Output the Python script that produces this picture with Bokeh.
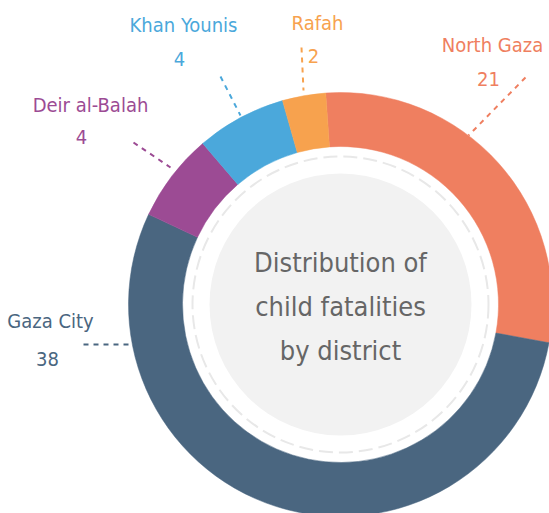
import math
from bokeh.plotting import figure
from bokeh.models import Range1d, ColumnDataSource
from bokeh.core.properties import value
from bokeh.embed import file_html
from bokeh.resources import INLINE

# ---- data ----
districts = ["North Gaza", "Gaza City", "Deir al-Balah", "Khan Younis", "Rafah"]
counts = [21, 38, 4, 4, 2]
# share of the ring (percent) as drawn in the reference picture
shares = [29.0, 54.1, 6.75, 6.85, 3.3]
colors = ["#EF7F60", "#4A6680", "#9C4B94", "#4BA8DB", "#F7A24E"]
title_lines = ["Distribution of", "child fatalities", "by district"]

# ---- layout (page pixel coords, y down) ----
W, H = 549, 513
PAGE_H = 513
def Y(y):
    return PAGE_H - y

cx, cy = 340, Y(304)
r_out, r_in = 212, 158
r_dash, r_core = 148, 131
start_deg = -4.0  # clockwise from 12 o'clock

TITLE_PX = 27
LABEL_PX = 20
def bl(y, px):
    # empirical shift so that the glyph baseline lands on y
    return Y(y - 0.41 * px)

# label anchors: (label x, label baseline, number x, number baseline), leader (x0,y0,x1,y1)
label_pos = {
    "North Gaza": (492, 53, 488, 87, (525, 77, 468, 135)),
    "Gaza City": (50, 329, 47, 367, (83, 344, 128, 344)),
    "Deir al-Balah": (90, 113, 81, 145, (133, 142, 170, 167)),
    "Khan Younis": (183, 33, 179, 67, (220, 76, 240, 115)),
    "Rafah": (317, 31, 313, 64, (301, 47, 303, 90)),
}

p = figure(width=W, height=H, output_backend="svg", toolbar_location=None,
           x_range=Range1d(0, W), y_range=Range1d(PAGE_H - H, PAGE_H),
           min_border=0)
p.axis.visible = False
p.grid.visible = False
p.outline_line_color = None
p.background_fill_color = "white"
p.border_fill_color = "white"

total = sum(shares)
starts, ends = [], []
acc = start_deg
for s in shares:
    a0 = acc
    a1 = acc + s / total * 360.0
    starts.append(math.radians(90 - a0))
    ends.append(math.radians(90 - a1))
    acc = a1

src = ColumnDataSource(dict(x=[cx] * len(districts), y=[cy] * len(districts),
                            start=starts, end=ends, color=colors, name=districts))
p.annular_wedge(x="x", y="y", inner_radius=r_in, outer_radius=r_out,
                start_angle="start", end_angle="end", direction="clock",
                fill_color="color", line_color="color", line_width=0.5, source=src)

# inner decoration
p.circle(x=[cx], y=[cy], radius=r_core, fill_color="#F2F2F2", line_color=None)
p.circle(x=[cx], y=[cy], radius=r_dash, fill_color=None, line_color="#E8E8E8",
         line_width=2, line_dash="14 6")

font = value("'DejaVu Sans Condensed', 'Roboto Condensed', 'Liberation Sans Narrow', Roboto")

# center title
base = [273, 317, 361]
p.text(x=[cx] * 3, y=[bl(b, TITLE_PX) for b in base], text=title_lines,
       text_font=font, text_font_size=f"{TITLE_PX}px", text_color="#666666",
       text_align="center", text_baseline="alphabetic")

# labels, numbers and leader lines
for name, cnt, col in zip(districts, counts, colors):
    lx, lb, nx, nb, (x0, y0, x1, y1) = label_pos[name]
    p.text(x=[lx], y=[bl(lb, LABEL_PX)], text=[name], text_font=font,
           text_font_size=f"{LABEL_PX}px", text_color=col,
           text_align="center", text_baseline="alphabetic")
    p.text(x=[nx], y=[bl(nb, LABEL_PX)], text=[str(cnt)], text_font=font,
           text_font_size=f"{LABEL_PX}px", text_color=col,
           text_align="center", text_baseline="alphabetic")
    p.line(x=[x0, x1], y=[Y(y0), Y(y1)], line_color=col, line_width=2, line_dash="5 5")

open("out.html", "w").write(file_html(p, INLINE))
